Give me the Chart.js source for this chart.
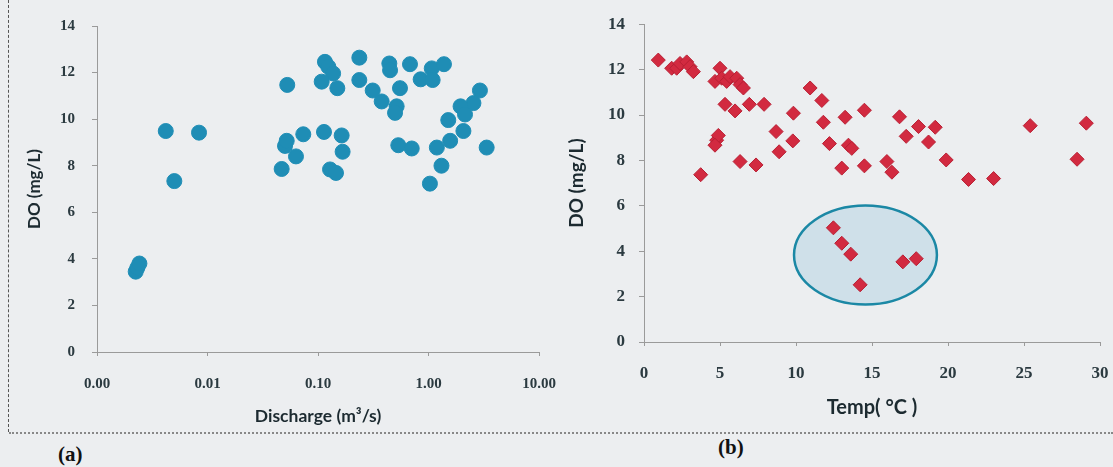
<!DOCTYPE html>
<html>
<head>
<meta charset="utf-8">
<script src="https://cdn.jsdelivr.net/npm/chart.js@4.4.0/dist/chart.umd.min.js"></script>
<style>
	body{margin:0;background:#eceef0;width:1113px;height:467px;position:relative;overflow:hidden}
	#ca{position:absolute;left:0;top:0}
	#cb{position:absolute;left:560px;top:0}
	.vline{position:absolute;left:8px;top:0;height:432px;border-left:1.5px dashed #555}
	.hline{position:absolute;left:9px;top:432px;width:1104px;border-top:2px dotted #888}
	.lab{position:absolute;font-family:"Liberation Serif",serif;font-weight:bold;font-size:21px;color:#111}
</style>
</head>
<body>
<div class="vline"></div>
<div class="hline"></div>
<div class="lab" style="left:58px;top:442px">(a)</div>
<div class="lab" style="left:718px;top:435px">(b)</div>
<canvas id="ca" width="560" height="440"></canvas>
<canvas id="cb" width="553" height="440"></canvas>
<script>
	// panel (a): discharge (m3/s) vs DO (mg/L)
	var dischargeA = [0.00224, 0.00232, 0.00242, 0.00419, 0.00501, 0.00838, 0.0527, 0.0469, 0.0503, 0.0521,
		0.0632, 0.0736, 0.1133, 0.1637, 0.167, 0.1285, 0.1455, 0.1156, 0.124, 0.137,
		0.108, 0.1496, 0.2366, 0.2366, 0.3126, 0.377, 0.442, 0.449, 0.552, 0.515,
		0.498, 0.68, 0.849, 1.07, 1.09, 1.38, 2.92, 2.55, 1.95, 2.14,
		1.51, 2.07, 1.57, 1.19, 1.31, 1.03, 3.36, 0.533, 0.705];
	var doA = [3.45, 3.62, 3.8, 9.49, 7.34, 9.42, 11.47, 7.86, 8.85, 9.07,
		8.4, 9.35, 9.45, 9.3, 8.6, 7.84, 7.69, 12.46, 12.25, 11.96,
		11.61, 11.33, 12.64, 11.68, 11.23, 10.76, 12.39, 12.1, 11.33, 10.55,
		10.27, 12.36, 11.71, 12.18, 11.68, 12.36, 11.23, 10.69, 10.55, 10.2,
		9.96, 9.49, 9.07, 8.78, 8.0, 7.23, 8.78, 8.88, 8.74];

	// panel (b): temperature (C) vs DO (mg/L)
	var tempB = [0.94, 1.82, 2.15, 2.37, 2.81, 3.03, 3.25, 5.0, 4.67, 5.11,
		5.44, 5.66, 6.1, 6.32, 6.54, 5.33, 5.99, 6.93, 7.9, 4.78,
		4.89, 4.67, 3.73, 6.32, 7.37, 10.93, 11.7, 9.83, 11.8, 8.69,
		9.79, 8.89, 12.2, 13.23, 13.45, 13.67, 13.01, 14.5, 14.5, 16.81,
		18.06, 19.16, 17.25, 18.72, 15.98, 16.31, 19.88, 21.35, 23.0, 25.41,
		29.1, 28.49, 12.46, 13.01, 13.6, 14.22, 17.03, 17.91];
	var doB = [12.42, 12.06, 12.06, 12.27, 12.34, 12.13, 11.91, 12.06, 11.48, 11.62,
		11.48, 11.69, 11.62, 11.34, 11.19, 10.47, 10.18, 10.47, 10.47, 8.89,
		9.1, 8.67, 7.37, 7.95, 7.8, 11.19, 10.64, 10.08, 9.68, 9.27,
		8.86, 8.38, 8.74, 9.9, 8.67, 8.53, 7.66, 10.21, 7.76, 9.92,
		9.49, 9.46, 9.06, 8.81, 7.95, 7.48, 8.02, 7.16, 7.2, 9.53,
		9.64, 8.05, 5.03, 4.35, 3.87, 2.52, 3.53, 3.67];

	var xTicksA = [0.001, 0.01, 0.1, 1, 10];
	var xTicksB = [0, 5, 10, 15, 20, 25, 30];
	var yTicks = [0, 2, 4, 6, 8, 10, 12, 14];

	// circled group in (b), in data units
	var ellipseCenter = [14.57, 3.83];
	var ellipseRadius = [4.7, 2.18];

	var axisColor = '#9a9a9a';
	var tickColor = '#2b3a40';
	var titleColor = '#1c2a30';

	function pts(xs, ys){
		return xs.map(function(v, i){ return {x: v, y: ys[i]}; });
	}

	function tickFont(size){
		return {family: '"Liberation Serif"', size: size, weight: 'bold'};
	}
	function titleFont(size){
		return {family: 'Lato', size: size, weight: 'bold'};
	}

	function yAxis(width, titleSize, tickSize, tickPad, titlePad){
		return {
			min: 0, max: 14,
			afterBuildTicks: function(s){ s.ticks = yTicks.map(function(v){ return {value: v}; }); },
			afterFit: function(s){ s.width = width; },
			ticks: {color: tickColor, font: tickFont(tickSize), padding: tickPad},
			grid: {drawOnChartArea: false, tickLength: 5, color: axisColor},
			border: {color: axisColor},
			title: {display: true, text: 'DO (mg/L)', color: titleColor, font: titleFont(titleSize), padding: {top: titlePad}}
		};
	}

	var ellipsePlugin = {
		id: 'ellipse',
		beforeDatasetsDraw: function(chart){
			var ctx = chart.ctx, x = chart.scales.x, y = chart.scales.y;
			var cx = x.getPixelForValue(ellipseCenter[0]);
			var cy = y.getPixelForValue(ellipseCenter[1]);
			var rx = x.getPixelForValue(ellipseCenter[0] + ellipseRadius[0]) - cx;
			var ry = cy - y.getPixelForValue(ellipseCenter[1] + ellipseRadius[1]);
			ctx.save();
			ctx.beginPath();
			ctx.ellipse(cx, cy, rx, ry, 0, 0, Math.PI * 2);
			ctx.fillStyle = '#cfe0e9';
			ctx.fill();
			ctx.lineWidth = 2.5;
			ctx.strokeStyle = '#1b88a5';
			ctx.stroke();
			ctx.restore();
		}
	};

	new Chart(document.getElementById('ca'), {
		type: 'scatter',
		data: {datasets: [{
			data: pts(dischargeA, doA),
			backgroundColor: '#1f8db5', borderColor: '#1f8db5',
			pointRadius: 7.5, pointHoverRadius: 7.5
		}]},
		options: {
			responsive: false, animation: false,
			plugins: {legend: {display: false}, tooltip: {enabled: false}},
			layout: {padding: {left: 0, right: 21, top: 22, bottom: 0}},
			scales: {
				x: {
					type: 'logarithmic', min: 0.001, max: 10,
					afterBuildTicks: function(s){ s.ticks = xTicksA.map(function(v){ return {value: v}; }); },
					afterFit: function(s){ s.height = 88; s.paddingLeft = 0; s.paddingRight = 0; },
					ticks: {color: tickColor, font: tickFont(15), padding: 19, maxRotation: 0, autoSkip: false,
						callback: function(v){ return Number(v).toFixed(2); }},
					grid: {drawOnChartArea: false, tickLength: 4, color: axisColor},
					border: {color: axisColor},
					title: {display: true, text: 'Discharge (m³/s)', color: titleColor, font: titleFont(17.5), padding: {bottom: 13}}
				},
				y: yAxis(97, 17, 15, 17, 24)
			}
		}
	});

	new Chart(document.getElementById('cb'), {
		type: 'scatter',
		data: {datasets: [{
			data: pts(tempB, doB),
			pointStyle: 'rectRot',
			backgroundColor: '#d22a40', borderColor: '#b81f33', borderWidth: 1,
			pointRadius: 7, pointHoverRadius: 7
		}]},
		plugins: [ellipsePlugin],
		options: {
			responsive: false, animation: false,
			plugins: {legend: {display: false}, tooltip: {enabled: false}},
			layout: {padding: {left: 0, right: 13, top: 18, bottom: 0}},
			scales: {
				x: {
					type: 'linear', min: 0, max: 30,
					afterBuildTicks: function(s){ s.ticks = xTicksB.map(function(v){ return {value: v}; }); },
					afterFit: function(s){ s.height = 98; s.paddingLeft = 0; s.paddingRight = 0; },
					ticks: {color: tickColor, font: tickFont(17), padding: 17, maxRotation: 0, autoSkip: false},
					grid: {drawOnChartArea: false, tickLength: 4, color: axisColor},
					border: {color: axisColor},
					title: {display: true, text: 'Temp( °C )', color: titleColor, font: titleFont(20), padding: {bottom: 20}}
				},
				y: yAxis(84, 19, 17, 14, 5)
			}
		}
	});
</script>
</body>
</html>
